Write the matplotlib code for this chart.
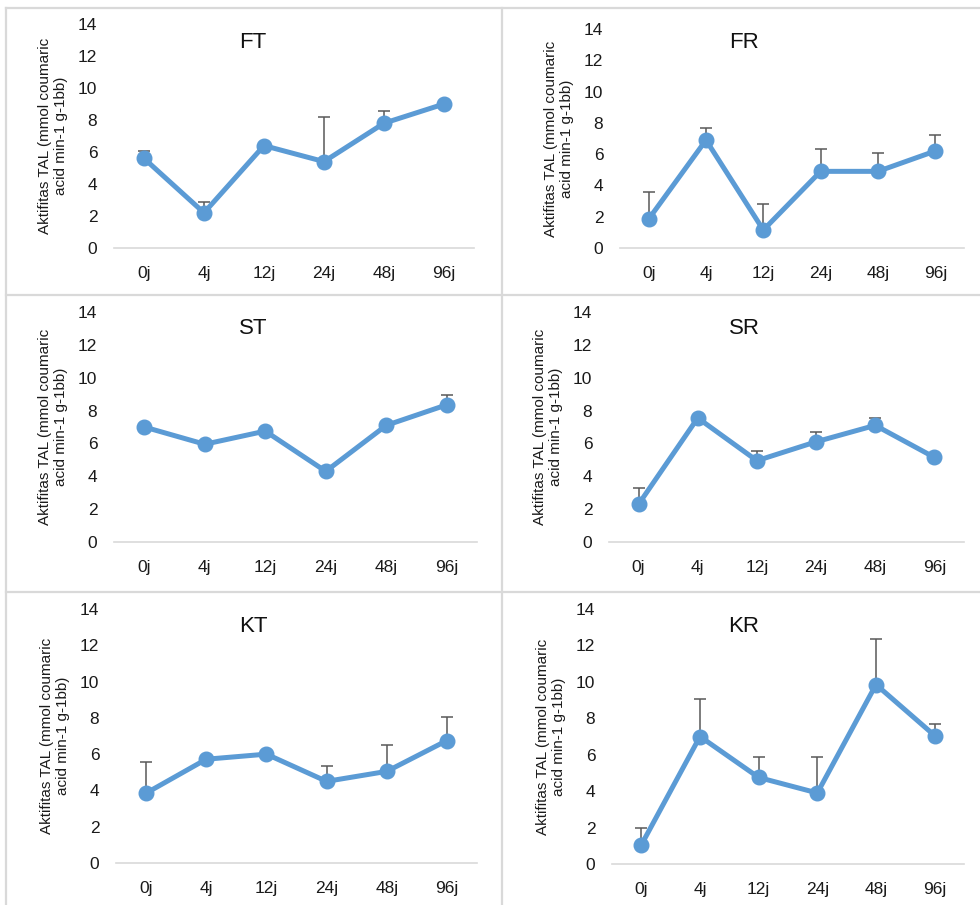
import matplotlib
matplotlib.use('Agg')
import matplotlib.pyplot as plt
from matplotlib.lines import Line2D

plt.rcParams['font.family'] = ['Liberation Sans', 'DejaVu Sans']

#--- data
days = ['0j', '4j', '12j', '24j', '48j', '96j']
titles = ['FT', 'FR', 'ST', 'SR', 'KT', 'KR']

ft = [5.6, 2.2, 6.4, 5.4, 7.8, 9.0]
ft_err = [0.45, 0.65, 0.1, 2.8, 0.75, 0.15]
fr = [1.85, 6.9, 1.15, 4.9, 4.9, 6.2]
fr_err = [1.75, 0.8, 1.65, 1.4, 1.15, 1.0]
st = [7.0, 5.95, 6.75, 4.3, 7.1, 8.35]
st_err = [0.2, 0.2, 0.2, 0.2, 0.2, 0.6]
sr = [2.3, 7.55, 4.95, 6.1, 7.1, 5.15]
sr_err = [1.0, 0.2, 0.6, 0.6, 0.45, 0.2]
kt = [3.85, 5.72, 6.0, 4.5, 5.05, 6.75]
kt_err = [1.7, 0.2, 0.2, 0.85, 1.45, 1.3]
kr = [1.05, 7.0, 4.75, 3.9, 9.85, 7.05]
kr_err = [0.95, 2.05, 1.15, 1.95, 2.5, 0.65]

series = [ft, fr, st, sr, kt, kr]
errors = [ft_err, fr_err, st_err, sr_err, kt_err, kr_err]

ylabel = 'Aktifitas TAL (mmol coumaric\nacid min-1 g-1bb)'
yticks = [0, 2, 4, 6, 8, 10, 12, 14]

#--- layout (pixels: left, right, bottom(zero line), top(14))
W, H = 980, 905
boxes = [
    (114, 474, 248, 24),
    (620, 964, 248, 29),
    (114, 477, 542, 312),
    (609, 964, 542, 312),
    (116, 477, 863, 609),
    (612, 964, 864, 609),
]
# title positions (x center, y center)
title_pos = [(253, 42), (744, 42), (253, 328), (744, 328), (253, 626), (744, 626)]

blue = '#5b9bd5'
grey = '#d9d9d9'

fig = plt.figure(figsize=(W / 100, H / 100), dpi=100)

for i in range(6):
    l, r, b, t = boxes[i]
    ax = fig.add_axes([l / W, 1 - b / H, (r - l) / W, (b - t) / H])
    x = list(range(len(days)))
    lo = [0] * len(days)
    ax.errorbar(x, series[i], yerr=[lo, errors[i]], fmt='none',
                ecolor='#595959', elinewidth=1.1, capsize=4.5, capthick=1.1,
                zorder=2)
    ax.plot(x, series[i], color=blue, lw=3.6, marker='o', ms=10.5,
            zorder=3, solid_capstyle='round')
    ax.set_xlim(-0.5, len(days) - 0.5)
    ax.set_ylim(0, 14)
    ax.set_yticks(yticks)
    ax.set_xticks(x)
    ax.set_xticklabels(days)
    for s in ['top', 'right', 'left']:
        ax.spines[s].set_visible(False)
    ax.spines['bottom'].set_color(grey)
    ax.spines['bottom'].set_linewidth(1.2)
    ax.tick_params(axis='y', length=0, pad=12, labelsize=12.5, labelcolor='#1a1a1a')
    ax.tick_params(axis='x', length=0, pad=13, labelsize=12.5, labelcolor='#1a1a1a')
    ax.set_ylabel(ylabel, fontsize=11, color='#1a1a1a', labelpad=7,
                  linespacing=1.2)
    ax.patch.set_alpha(0)
    tx, ty = title_pos[i]
    fig.text(tx / W, 1 - ty / H, titles[i], fontsize=16, ha='center',
             va='center', color='#111111')

# panel borders
for yy in [8, 294.5, 591.5]:
    fig.add_artist(Line2D([6 / W, 1], [1 - yy / H, 1 - yy / H], color=grey, lw=1.6))
for xx in [6, 501.5]:
    fig.add_artist(Line2D([xx / W, xx / W], [0, 1 - 8 / H], color=grey, lw=1.6))

plt.savefig('out.png', dpi=100)
